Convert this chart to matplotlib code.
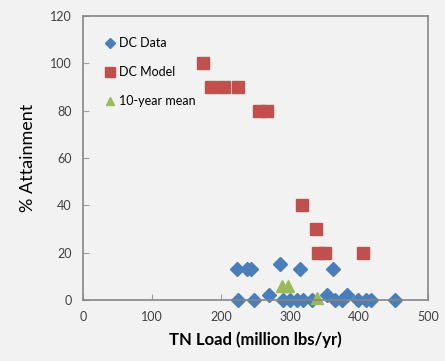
import matplotlib.pyplot as plt

# DC Data (blue diamonds)
data_x = [223, 237, 244, 285, 314, 362,
          225, 248, 270, 290, 300, 310, 319, 332, 354, 365, 375, 383, 398, 410, 417, 452]
data_y = [13, 13, 13, 15, 13, 13,
          0, 0, 2, 0, 0, 0, 0, 0, 2, 0, 0, 2, 0, 0, 0, 0]

# DC Model (red squares)
model_x = [174, 186, 204, 225, 255, 267, 317, 337, 340, 350, 405]
model_y = [100, 90, 90, 90, 80, 80, 40, 30, 20, 20, 20]

# 10-year mean (green triangles)
mean_x = [288, 297, 339]
mean_y = [6, 6, 1]

bg = '#f2f2f2'
plt.rcParams['font.family'] = ['Lato', 'DejaVu Sans']

fig = plt.figure(figsize=(4.45, 3.61), dpi=100, facecolor=bg)
ax = fig.add_axes([0.1865, 0.169, 0.7755, 0.787], facecolor=bg)

ax.plot(data_x, data_y, 'D', color='#4a7ebb', markersize=7, label='DC Data', clip_on=False)
ax.plot(model_x, model_y, 's', color='#c0504d', markersize=9, label='DC Model', clip_on=False)
ax.plot(mean_x, mean_y, '^', color='#9bbb59', markersize=8, label='10-year mean', clip_on=False)

ax.set_xlim(0, 500)
ax.set_ylim(0, 120)
ax.set_xticks(range(0, 501, 100))
ax.set_yticks(range(0, 121, 20))
ax.tick_params(direction='in', length=4, color='#a0a0a0', labelsize=9,
               labelcolor='#404040', pad=8)

for s in ax.spines.values():
    s.set_color('#868686')
    s.set_linewidth(1.2)

ax.set_xlabel('TN Load (million lbs/yr)', fontsize=12, fontweight='bold', labelpad=6)
ax.set_ylabel('% Attainment', fontsize=13, labelpad=10)

leg = ax.legend(loc='upper left', frameon=False, fontsize=9, handletextpad=0.2,
                handlelength=1.0, labelspacing=1.35, borderaxespad=1.3, markerscale=0.8)

fig.savefig('out.png', dpi=100, facecolor=bg)
